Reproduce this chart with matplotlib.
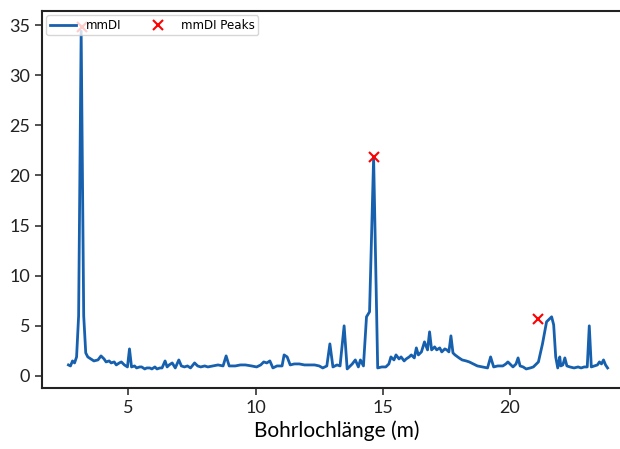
import matplotlib
matplotlib.use("Agg")
import matplotlib.pyplot as plt

# ---------------------------------------------------------------- data

depth = [2.64, 2.72, 2.80, 2.88, 2.96, 3.04, 3.14, 3.24, 3.32, 3.40, 3.52, 3.64,
         3.80, 3.92, 4.04, 4.12, 4.24, 4.32, 4.44, 4.52, 4.64, 4.72, 4.84, 4.96,
         5.04, 5.12, 5.24, 5.32, 5.44, 5.52, 5.64, 5.72, 5.84, 5.92, 6.04, 6.12,
         6.24, 6.32, 6.44, 6.52, 6.60, 6.72, 6.84, 6.98, 7.08, 7.20, 7.32, 7.44,
         7.60, 7.72, 7.84, 8.00, 8.12, 8.32, 8.52, 8.72, 8.84, 8.96, 9.20, 9.40,
         9.60, 9.84, 10.04, 10.20, 10.32, 10.44, 10.56, 10.68, 10.84, 11.04, 11.12,
         11.24, 11.36, 11.52, 11.72, 11.92, 12.12, 12.32, 12.50, 12.64, 12.80,
         12.92, 13.04, 13.20, 13.32, 13.48, 13.60, 13.72, 13.80, 13.92, 14.04,
         14.12, 14.24, 14.36, 14.48, 14.64, 14.80, 14.96, 15.12, 15.24, 15.32,
         15.44, 15.52, 15.64, 15.72, 15.84, 15.92, 16.04, 16.12, 16.24, 16.32,
         16.40, 16.52, 16.64, 16.76, 16.84, 16.92, 17.04, 17.12, 17.24, 17.32,
         17.44, 17.52, 17.60, 17.68, 17.76, 17.84, 18.00, 18.12, 18.28, 18.40,
         18.56, 18.72, 18.92, 19.12, 19.24, 19.36, 19.52, 19.72, 19.84, 19.92,
         20.04, 20.12, 20.24, 20.32, 20.40, 20.52, 20.64, 20.80, 20.92, 21.12,
         21.28, 21.44, 21.64, 21.72, 21.80, 21.88, 21.96, 22.00, 22.08, 22.16,
         22.24, 22.36, 22.52, 22.68, 22.80, 22.92, 23.04, 23.12, 23.20, 23.32,
         23.44, 23.52, 23.60, 23.68, 23.76, 23.84]
mmdi = [1.1, 1.0, 1.5, 1.3, 1.9, 6.0, 34.4, 6.0, 2.3, 1.9, 1.7, 1.5,
        1.6, 2.0, 1.7, 1.4, 1.5, 1.3, 1.4, 1.1, 1.3, 1.4, 1.1, 0.9,
        2.7, 0.9, 1.0, 0.8, 0.9, 0.9, 0.7, 0.8, 0.8, 0.7, 0.9, 0.7,
        0.8, 0.8, 1.5, 0.9, 1.1, 1.3, 0.8, 1.6, 1.0, 0.9, 1.0, 0.8,
        1.3, 1.0, 0.9, 1.0, 0.9, 1.0, 1.1, 1.0, 2.0, 1.0, 1.0, 1.1,
        1.1, 1.0, 0.9, 1.1, 1.4, 1.3, 1.5, 0.8, 1.0, 1.0, 2.1,
        1.9, 1.1, 1.2, 1.2, 1.1, 1.1, 1.1, 1.0, 0.8, 1.0,
        3.2, 0.9, 1.1, 1.0, 5.0, 0.7, 1.0, 1.2, 1.6, 0.9,
        1.6, 1.0, 5.9, 6.4, 21.8, 0.8, 0.9, 0.9, 1.2, 1.9,
        1.6, 2.1, 1.7, 1.9, 1.5, 1.7, 1.9, 2.1, 1.8, 2.8,
        2.1, 2.4, 3.4, 2.6, 4.4, 2.6, 2.9, 2.6, 2.8, 2.4,
        2.7, 2.6, 2.4, 4.0, 2.3, 2.1, 1.8, 1.6, 1.5, 1.4,
        1.2, 1.0, 0.9, 0.8, 1.9, 0.9, 1.0, 1.0, 1.2, 1.4,
        1.1, 0.9, 1.2, 1.8, 1.0, 0.9, 0.7, 0.8, 0.9, 1.4,
        3.2, 5.4, 5.9, 5.1, 1.9, 0.8, 1.9, 1.0, 1.1, 1.8,
        1.0, 0.9, 0.8, 0.9, 0.8, 0.9, 0.9, 5.0, 0.9, 1.0,
        1.1, 1.4, 1.2, 1.6, 1.1, 0.8]

peak_depth = [3.16, 14.64, 21.12]
peak_mmdi  = [34.8, 21.8, 5.7]

# ---------------------------------------------------------------- plot

W, H = 620, 449
fig = plt.figure(figsize=(W / 100, H / 100), dpi=100)
# axes runs past the right edge of the canvas, as in the cropped reference
ax = fig.add_axes([42 / W, (H - 388) / H, (632 - 42) / W, (388 - 11) / H])

ax.plot(depth, mmdi, lw=2.0, color="#1660ae", label="mmDI")
ax.plot(peak_depth, peak_mmdi, "x", color="red", ms=7.5, mew=1.5, label="mmDI Peaks")

ax.set_xlim(1.6, 24.8)
ax.set_ylim(-1.2, 36.4)
ax.set_xticks([5, 10, 15, 20])
ax.set_yticks([0, 5, 10, 15, 20, 25, 30, 35])

for lbl in ax.get_xticklabels() + ax.get_yticklabels():
    lbl.set_family("Lato")
    lbl.set_fontsize(13)
    lbl.set_color("#222222")
ax.tick_params(length=5, width=1.2, color="#333333")
for s in ax.spines.values():
    s.set_linewidth(1.5)
    s.set_color("#222222")

ax.set_xlabel("Bohrlochlänge (m)", family="Lato", fontsize=15, labelpad=3)

ax.legend(loc="upper left", ncol=2, fontsize=8.6, framealpha=0.8,
          borderaxespad=0.35, borderpad=0.3, handlelength=2.2,
          columnspacing=2.0)

fig.savefig("out.png", dpi=100)
